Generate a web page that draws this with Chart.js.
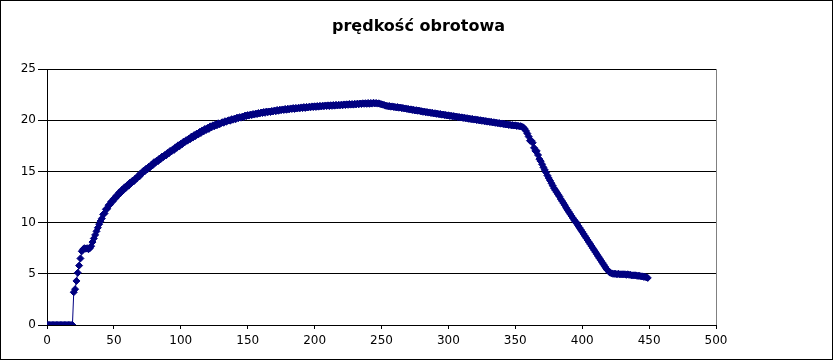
<!DOCTYPE html>
<html>
<head>
<meta charset="utf-8">
<script src="https://cdn.jsdelivr.net/npm/chart.js@4/dist/chart.umd.min.js"></script>
<style>
html,body{margin:0;padding:0;background:#fff;}
#wrap{width:837px;height:360px;}
</style>
</head>
<body>
<div id="wrap"><canvas id="c" width="837" height="360"></canvas></div>
<script>
const chartTitle = 'prędkość obrotowa';
const xTicks = [0,50,100,150,200,250,300,350,400,450,500];
const yTicks = [0,5,10,15,20,25];
const timeSec = [
  0,1,2,3,4,5,6,7,8,9,
  10,11,12,13,14,15,16,17,18,19,
  20,21,22,23,24,25,26,27,28,29,
  30,31,32,33,34,35,36,37,38,39,
  40,41,42,43,44,45,46,47,48,49,
  50,51,52,53,54,55,56,57,58,59,
  60,61,62,63,64,65,66,67,68,69,
  70,71,72,73,74,75,76,77,78,79,
  80,81,82,83,84,85,86,87,88,89,
  90,91,92,93,94,95,96,97,98,99,
  100,101,102,103,104,105,106,107,108,109,
  110,111,112,113,114,115,116,117,118,119,
  120,121,122,123,124,125,126,127,128,129,
  130,131,132,133,134,135,136,137,138,139,
  140,141,142,143,144,145,146,147,148,149,
  150,151,152,153,154,155,156,157,158,159,
  160,161,162,163,164,165,166,167,168,169,
  170,171,172,173,174,175,176,177,178,179,
  180,181,182,183,184,185,186,187,188,189,
  190,191,192,193,194,195,196,197,198,199,
  200,201,202,203,204,205,206,207,208,209,
  210,211,212,213,214,215,216,217,218,219,
  220,221,222,223,224,225,226,227,228,229,
  230,231,232,233,234,235,236,237,238,239,
  240,241,242,243,244,245,246,247,248,249,
  250,251,252,253,254,255,256,257,258,259,
  260,261,262,263,264,265,266,267,268,269,
  270,271,272,273,274,275,276,277,278,279,
  280,281,282,283,284,285,286,287,288,289,
  290,291,292,293,294,295,296,297,298,299,
  300,301,302,303,304,305,306,307,308,309,
  310,311,312,313,314,315,316,317,318,319,
  320,321,322,323,324,325,326,327,328,329,
  330,331,332,333,334,335,336,337,338,339,
  340,341,342,343,344,345,346,347,348,349,
  350,351,352,353,354,355,356,357,358,359,
  360,361,362,363,364,365,366,367,368,369,
  370,371,372,373,374,375,376,377,378,379,
  380,381,382,383,384,385,386,387,388,389,
  390,391,392,393,394,395,396,397,398,399,
  400,401,402,403,404,405,406,407,408,409,
  410,411,412,413,414,415,416,417,418,419,
  420,421,422,423,424,425,426,427,428,429,
  430,431,432,433,434,435,436,437,438,439,
  440,441,442,443,444,445,446,447,448,449
];
const speed = [
  0,0,0,0,0,0,0,0,0,0,
  0,0,0,0,0,0,0,0,0,0,
  3.2,3.5,4.3,5.1,5.8,6.5,7.2,7.4,7.5,7.45,
  7.5,7.4,7.5,7.7,8.1,8.45,8.8,9.15,9.5,9.85,
  10.15,10.4,10.8,10.9,11.3,11.35,11.7,11.75,12.05,12.05,
  12.35,12.35,12.65,12.65,12.95,12.9,13.2,13.15,13.45,13.4,
  13.65,13.6,13.9,13.85,14.1,14.05,14.3,14.3,14.55,14.5,
  14.8,14.8,15.05,15.0,15.25,15.2,15.45,15.4,15.65,15.6,
  15.9,15.85,16.05,16.0,16.25,16.2,16.45,16.4,16.6,16.55,
  16.8,16.75,17.0,16.95,17.15,17.1,17.35,17.3,17.55,17.45,
  17.7,17.65,17.9,17.85,18.05,18.0,18.2,18.15,18.4,18.3,
  18.55,18.45,18.7,18.6,18.85,18.75,19.0,18.9,19.15,19.05,
  19.25,19.15,19.4,19.3,19.5,19.4,19.6,19.5,19.7,19.6,
  19.7,19.8,19.75,19.9,19.85,19.95,20.0,19.95,20.1,20.05,
  20.15,20.1,20.25,20.2,20.3,20.25,20.35,20.3,20.45,20.4,
  20.5,20.45,20.55,20.5,20.6,20.55,20.65,20.6,20.7,20.65,
  20.75,20.7,20.8,20.72,20.85,20.78,20.85,20.8,20.9,20.85,
  20.95,20.88,21.0,20.92,21.02,20.98,21.05,21.0,21.1,21.02,
  21.12,21.05,21.15,21.1,21.18,21.1,21.2,21.14,21.22,21.16,
  21.25,21.18,21.28,21.2,21.3,21.24,21.32,21.26,21.35,21.28,
  21.36,21.3,21.38,21.32,21.4,21.34,21.42,21.36,21.44,21.38,
  21.45,21.38,21.46,21.4,21.48,21.42,21.5,21.44,21.5,21.45,
  21.52,21.46,21.54,21.48,21.55,21.5,21.58,21.52,21.58,21.52,
  21.6,21.54,21.62,21.55,21.63,21.58,21.65,21.6,21.66,21.6,
  21.68,21.6,21.68,21.62,21.7,21.64,21.68,21.62,21.65,21.58,
  21.56,21.52,21.48,21.42,21.4,21.36,21.38,21.32,21.35,21.3,
  21.3,21.25,21.28,21.22,21.24,21.18,21.2,21.14,21.15,21.1,
  21.1,21.04,21.06,21.0,21.02,20.95,20.98,20.92,20.94,20.88,
  20.88,20.82,20.84,20.78,20.8,20.74,20.76,20.7,20.72,20.66,
  20.68,20.62,20.64,20.58,20.6,20.54,20.55,20.5,20.52,20.46,
  20.48,20.42,20.44,20.38,20.4,20.34,20.36,20.3,20.32,20.26,
  20.28,20.22,20.24,20.18,20.2,20.14,20.15,20.1,20.12,20.06,
  20.08,20.02,20.04,19.98,20.0,19.94,19.96,19.9,19.92,19.86,
  19.88,19.82,19.84,19.78,19.8,19.74,19.76,19.7,19.72,19.66,
  19.68,19.62,19.64,19.58,19.6,19.54,19.56,19.5,19.52,19.48,
  19.5,19.44,19.46,19.4,19.42,19.35,19.3,19.15,18.95,18.7,
  18.4,18.0,18.0,17.8,17.3,17.0,17.0,16.6,16.2,16.0,
  15.7,15.4,15.15,14.9,14.6,14.35,14.1,13.85,13.6,13.35,
  13.15,12.95,12.75,12.55,12.3,12.1,11.9,11.7,11.45,11.25,
  11.05,10.85,10.65,10.45,10.25,10.1,9.9,9.7,9.5,9.3,
  9.1,8.9,8.7,8.5,8.3,8.1,7.9,7.7,7.5,7.3,
  7.1,6.9,6.7,6.5,6.3,6.1,5.9,5.7,5.5,5.35,
  5.2,5.1,5.05,5.0,5.0,5.0,4.95,5.0,4.95,4.95,
  4.95,4.95,4.95,4.9,4.95,4.9,4.9,4.85,4.85,4.85,
  4.85,4.8,4.8,4.8,4.75,4.75,4.7,4.7,4.65,4.6
];

const points = timeSec.map((t, i) => ({x: t, y: speed[i]}));

const framePlugin = {
  id: 'frame',
  beforeDraw(chart) {
    const ctx = chart.ctx;
    ctx.save();
    ctx.fillStyle = '#ffffff';
    ctx.fillRect(0, 0, chart.width, chart.height);
    ctx.restore();
  },
  beforeDatasetsDraw(chart) {
    const ctx = chart.ctx, a = chart.chartArea;
    ctx.save();
    ctx.strokeStyle = '#808080';
    ctx.lineWidth = 1;
    ctx.beginPath();
    ctx.moveTo(Math.round(a.right) + 0.5, a.top);
    ctx.lineTo(Math.round(a.right) + 0.5, a.bottom);
    ctx.stroke();
    ctx.restore();
  },
  afterDraw(chart) {
    const ctx = chart.ctx;
    ctx.save();
    ctx.strokeStyle = '#000000';
    ctx.lineWidth = 1;
    ctx.strokeRect(0.5, 0.5, 832, 359);
    ctx.restore();
  }
};

new Chart(document.getElementById('c'), {
  type: 'scatter',
  data: {
    datasets: [{
      label: chartTitle,
      data: points,
      showLine: true,
      borderColor: '#000080',
      backgroundColor: '#000080',
      borderWidth: 1,
      tension: 0,
      pointStyle: 'rectRot',
      pointRadius: 3.5,
      pointBorderWidth: 1,
      pointBorderColor: '#000080',
      pointBackgroundColor: '#000080'
    }]
  },
  options: {
    responsive: false,
    animation: false,
    devicePixelRatio: 1,
    layout: { padding: 0 },
    plugins: {
      legend: { display: false },
      tooltip: { enabled: false },
      title: {
        display: true,
        text: chartTitle,
        color: '#000000',
        font: { family: 'DejaVu Sans', size: 16, weight: 'bold' },
        padding: { top: 17, bottom: 32.8 }
      }
    },
    scales: {
      x: {
        type: 'linear',
        min: 0, max: 500,
        afterBuildTicks(scale) { scale.ticks = xTicks.map(v => ({value: v})); },
        afterFit(scale) { scale.height = 35; },
        ticks: { color: '#000000', font: { family: 'DejaVu Sans', size: 12 }, padding: 5, maxRotation: 0, autoSkip: false },
        grid: { display: true, drawOnChartArea: false, drawTicks: true, tickLength: 4, color: '#000000', tickColor: '#000000' },
        border: { display: true, color: '#000000', width: 1 }
      },
      y: {
        type: 'linear',
        position: 'left',
        min: 0, max: 25,
        afterBuildTicks(scale) { scale.ticks = yTicks.map(v => ({value: v})); },
        afterFit(scale) { scale.width = 47; },
        ticks: { color: '#000000', font: { family: 'DejaVu Sans', size: 12 }, padding: 2, autoSkip: false },
        grid: { display: true, drawOnChartArea: true, drawTicks: true, tickLength: 9, color: '#000000', tickColor: '#000000' },
        border: { display: true, color: '#000000', width: 1 }
      },
      yRight: {
        type: 'linear',
        position: 'right',
        display: true,
        min: 0, max: 25,
        afterFit(scale) { scale.width = 121; },
        ticks: { display: false },
        grid: { display: false, drawTicks: false },
        border: { display: false }
      }
    }
  },
  plugins: [framePlugin]
});
</script>
</body>
</html>
